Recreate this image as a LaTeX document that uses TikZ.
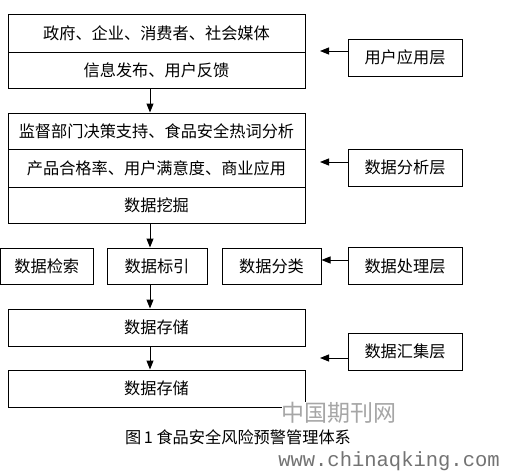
\documentclass[tikz,border=0pt]{standalone}
\usepackage{fontspec}
\setmainfont{Noto Sans CJK SC}
\newfontfamily\wmmono{Liberation Mono}
\usetikzlibrary{arrows.meta}
\begin{document}
\begin{tikzpicture}[x=1pt,y=-1pt,
  every node/.style={font=\fontsize{16.2}{18}\selectfont, inner sep=0pt},
  bx/.style={draw, line width=1pt, minimum width=297pt},
  lay/.style={draw, line width=1pt, minimum width=114pt, minimum height=37pt},
  sm/.style={draw, line width=1pt, minimum height=36pt},
  arr/.style={line width=1pt, -{Triangle[width=7pt,length=9pt]}}]
\useasboundingbox[fill=white] (0,0) rectangle (507,471);
% main column
\node[bx, minimum height=38pt] (a1) at (156.5,33) {政府、企业、消费者、社会媒体};
\node[bx, minimum height=36pt] (a2) at (156.5,70) {信息发布、用户反馈};
\node[bx, minimum height=36pt] (b1) at (156.5,131) {监督部门决策支持、食品安全热词分析};
\node[bx, minimum height=38pt] (b2) at (156.5,168) {产品合格率、用户满意度、商业应用};
\node[bx, minimum height=36pt] (b3) at (156.5,205) {数据挖掘};
\node[sm, minimum width=92.5pt] (c1) at (46.75,266) {数据检索};
\node[sm, minimum width=100pt] (c2) at (157,266) {数据标引};
\node[sm, minimum width=99pt] (c3) at (271.5,266) {数据分类};
\node[bx, minimum height=37pt] (d1) at (156.5,327.5) {数据存储};
\node[bx, minimum height=37pt] (d2) at (156.5,388.5) {数据存储};
% layer labels
\node[lay] (r1) at (405,57.5) {用户应用层};
\node[lay] (r2) at (405,167.5) {数据分析层};
\node[lay] (r3) at (405,266) {数据处理层};
\node[lay] (r4) at (405,351.5) {数据汇集层};
% vertical arrows
\coordinate (ax) at (150,0);
\draw[arr] (a2.south -| ax) -- (b1.north -| ax);
\draw[arr] (b3.south -| ax) -- (c2.north -| ax);
\draw[arr] (c2.south -| ax) -- (d1.north -| ax);
\draw[arr] (d1.south -| ax) -- (d2.north -| ax);
% horizontal arrows
\coordinate (t1) at (320,51);
\coordinate (t2) at (320,162);
\coordinate (t3) at (c3.east |- 0,260);
\coordinate (t4) at (320,358);
\draw[arr] (r1.west |- t1) -- (t1);
\draw[arr] (r2.west |- t2) -- (t2);
\draw[arr] (r3.west |- t3) -- (t3);
\draw[arr] (r4.west |- t4) -- (t4);
% caption and watermark
\node[fill=white, text=black!35, font=\fontsize{23}{24}\selectfont] (wm) at (339,413) {中国期刊网};
\node (cap) at (238,437) {图\,1 食品安全风险预警管理体系};
\node[text=black!55, font=\wmmono\fontsize{20.5}{22}\selectfont] (url) at (389,461) {www.chinaqking.com};
\end{tikzpicture}
\end{document}
